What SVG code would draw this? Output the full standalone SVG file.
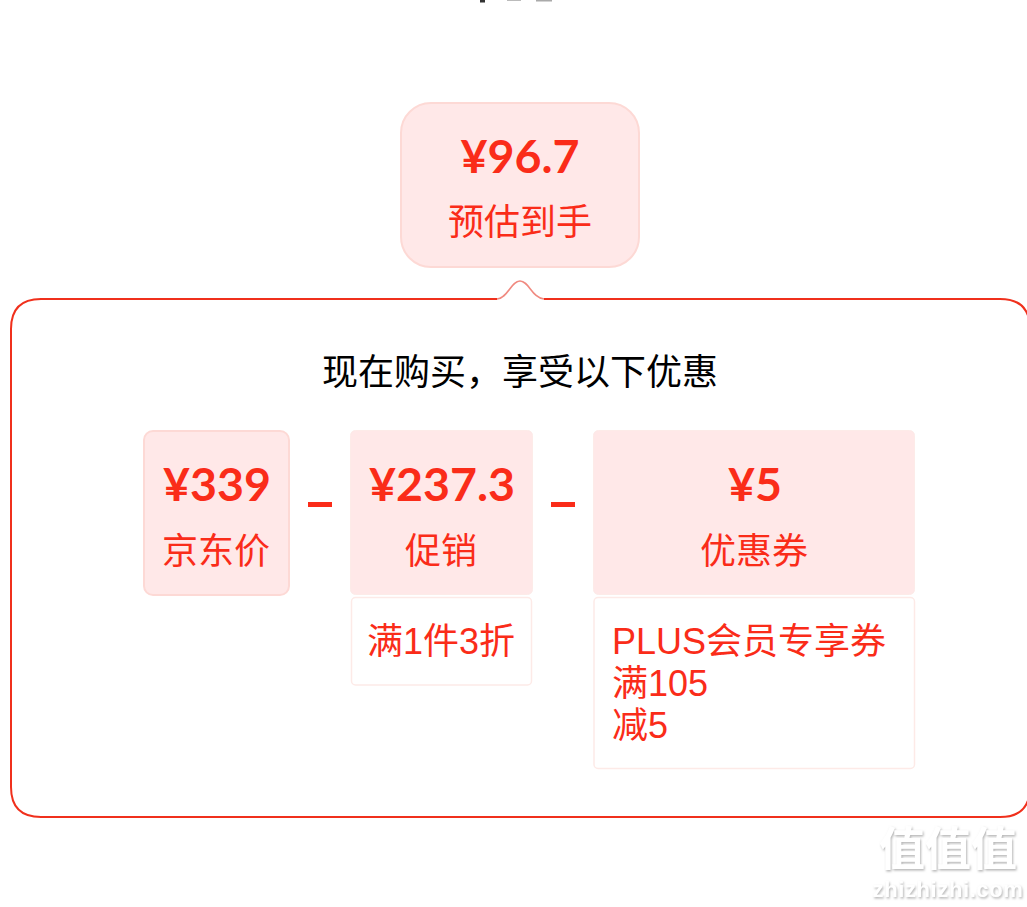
<svg xmlns="http://www.w3.org/2000/svg" width="1027" height="907" viewBox="0 0 1027 907">
<defs>
<style>
text{font-family:"Noto Sans CJK SC","Noto Sans",sans-serif;fill:#fa2c19;text-anchor:middle}
.price{font-family:"Lato","Noto Sans CJK SC",sans-serif;font-weight:700;font-size:46.500px}
.label{font-size:36px}
.detail{font-family:"Liberation Sans","Noto Sans CJK SC",sans-serif;font-size:36px;text-anchor:start}
.pink{fill:#ffe8e8;stroke:#fdd9d5;stroke-width:2}
.pinkflat{fill:#ffe8e8;stroke:#fdebe8;stroke-width:1}
.white{fill:#fff;stroke:#fdeae7;stroke-width:1.5}
.wm{font-family:"Noto Sans CJK SC",sans-serif;fill:#fff;filter:url(#wmshadow)}
</style>
<filter id="wmshadow" x="-10%" y="-10%" width="120%" height="130%">
<feDropShadow dx="1" dy="1.500" stdDeviation=".8" flood-color="#b5b5b5"/>
</filter>
</defs>
<rect width="1027" height="907" fill="#fff"/>
<g id="connectors">
<path d="M497 299H41Q11 299 11 329V787Q11 817 41 817H1000Q1030 817 1030 787V329Q1030 299 1000 299H544" fill="none" stroke="#f0301c" stroke-width="2"/>
<path d="M497 299C508 298 511 281 520 281C529 281 532 298 544 299" fill="none" stroke="#f08a80" stroke-width="1.600"/>
</g>
<g id="top-fragment">
<rect x="480" y="0" width="5" height="2.500" fill="#333"/><rect x="507" y="0" width="14" height="1" fill="#bbb"/><rect x="536" y="0" width="16" height="1.500" fill="#aaa"/>
</g>
<g id="estimate">
<rect class="pink" x="401" y="103" width="238" height="164" rx="30"/>
<text class="price" x="520" y="173">¥96.7</text>
<text class="label" x="520" y="235">预估到手</text>
</g>
<text id="title" x="520" y="385" font-size="36" style="fill:#000">现在购买，享受以下优惠</text>
<g id="jd-price">
<rect class="pink" x="144" y="431" width="145" height="164" rx="9"/>
<text class="price" x="217" y="501">¥339</text>
<text class="label" x="216" y="564">京东价</text>
</g>
<rect id="minus-1" x="308" y="502" width="24" height="5" fill="#fa2c19"/>
<g id="promo">
<rect class="pinkflat" x="350.500" y="430.500" width="182" height="164" rx="5"/>
<text class="price" x="442" y="501">¥237.3</text>
<text class="label" x="441" y="564">促销</text>
</g>
<g id="promo-detail">
<rect class="white" x="351.500" y="597.500" width="180" height="87.500" rx="4"/>
<text class="label" x="441" y="654" style="font-family:'Liberation Sans','Noto Sans CJK SC',sans-serif">满1件3折</text>
</g>
<rect id="minus-2" x="551" y="502" width="24" height="5" fill="#fa2c19"/>
<g id="coupon">
<rect class="pinkflat" x="593.500" y="430.500" width="321" height="164" rx="5"/>
<text class="price" x="755" y="501">¥5</text>
<text class="label" x="754" y="564">优惠券</text>
</g>
<g id="coupon-detail">
<rect class="white" x="594" y="597.500" width="320.500" height="171" rx="4"/>
<text class="detail" x="612" y="654">PLUS会员专享券</text>
<text class="detail" x="612" y="696">满105</text>
<text class="detail" x="612" y="738">减5</text>
</g>
<g id="watermark">
<text class="wm" x="948" y="865" font-size="46" font-weight="700">值值值</text>
<text class="wm" x="948" y="897" font-size="22" style="font-family:'Liberation Sans',sans-serif;letter-spacing:.6px;font-weight:700">zhizhizhi.com</text>
</g>
</svg>
